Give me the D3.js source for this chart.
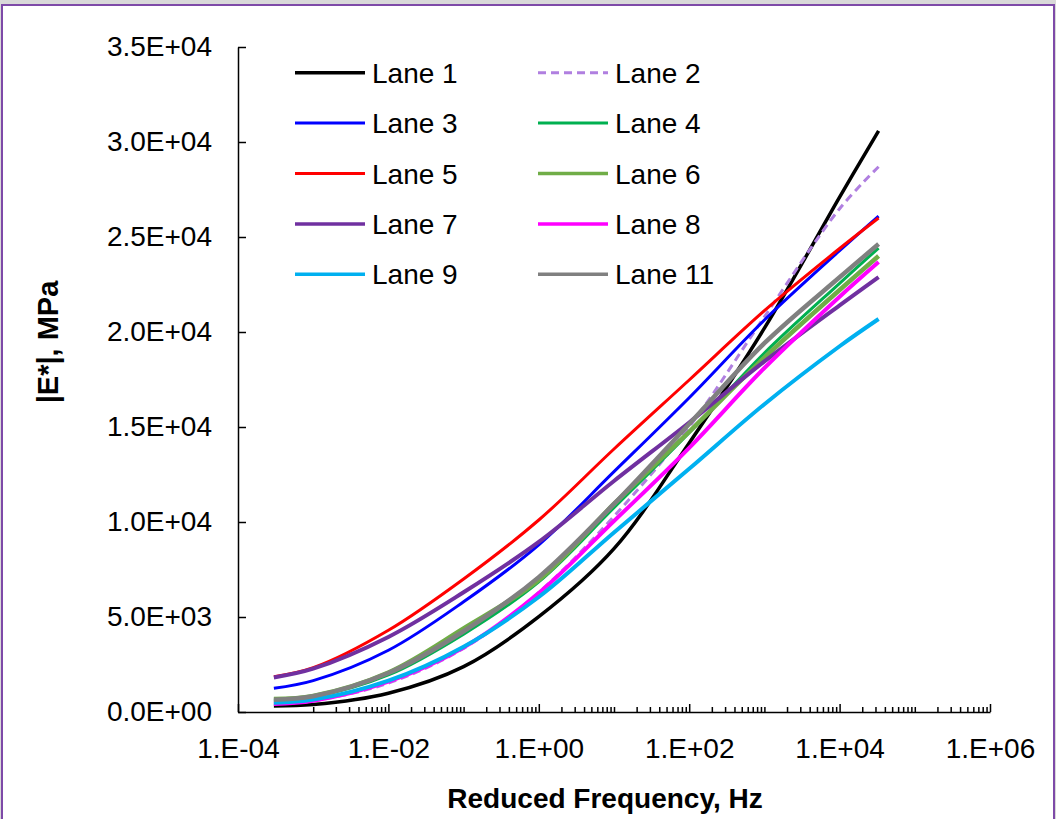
<!DOCTYPE html>
<html>
<head>
<meta charset="utf-8">
<script src="https://cdnjs.cloudflare.com/ajax/libs/d3/7.8.5/d3.min.js"></script>
<style>
  body { margin: 0; background: #fff; }
  svg { display: block; font-family: 'Liberation Sans', Arial, sans-serif; }
</style>
</head>
<body>
<script>
// Reduced frequency (Hz) where each master curve was read
const freqs = [3e-4, 1e-3, 1e-2, 1e-1, 1, 10, 100, 1000, 1e4, 3.3e4]

// |E*| values (MPa) per lane
const lane1 = [316, 390, 990, 2390, 5020, 8600, 14160, 20200, 27100, 30580]
const lane2 = [440, 590, 1520, 3350, 6300, 10300, 15000, 20800, 26490, 28700]
const lane3 = [1247, 1650, 3250, 5800, 8800, 12650, 16540, 20630, 24280, 26100]
const lane4 = [620, 800, 1950, 4100, 6850, 10750, 14700, 18894, 22563, 24420]
const lane5 = [1858, 2330, 4300, 7000, 10105, 13842, 17474, 21120, 24394, 26000]
const lane6 = [690, 850, 2080, 4400, 6950, 10950, 14750, 18650, 22210, 24000]
const lane7 = [1820, 2280, 3950, 6300, 8950, 12158, 15237, 18450, 21405, 22894]
const lane8 = [421, 595, 1600, 3400, 6263, 10052, 13905, 18105, 21858, 23684]
const lane9 = [490, 650, 1650, 3437, 6052, 9450, 12800, 16200, 19250, 20684]
const lane11 = [650, 830, 2050, 4250, 7100, 10950, 15158, 19410, 22878, 24630]

const laneNames = ['Lane 1', 'Lane 2', 'Lane 3', 'Lane 4', 'Lane 5', 'Lane 6', 'Lane 7', 'Lane 8', 'Lane 9', 'Lane 11']
const laneValues = [lane1, lane2, lane3, lane4, lane5, lane6, lane7, lane8, lane9, lane11]
const laneColors = ['#000000', '#b07fe0', '#0000ff', '#00b050', '#ff0000', '#70ad47', '#7030a0', '#ff00ff', '#00b0f0', '#808080']
const laneWidths = [3.5, 3, 3, 3, 3, 4.5, 4, 4, 4, 4.5]

const yTicks = [0, 5000, 10000, 15000, 20000, 25000, 30000, 35000]
const xLabelTicks = [1e-4, 1e-2, 1, 1e2, 1e4, 1e6]

const W = 1056
const H = 819

const svg = d3.select('body').append('svg').attr('width', W).attr('height', H)

// frame: grey strip on top and the purple border
svg.append('rect').attr('x', 0).attr('y', 0).attr('width', W).attr('height', H).attr('fill', '#d9d9d9')
svg.append('rect')
	.attr('x', 2).attr('y', 5).attr('width', W - 4).attr('height', H + 20)
	.attr('fill', '#fff').attr('stroke', '#7e4aa8').attr('stroke-width', 2)

const x = d3.scaleLog().domain([1e-4, 1e6]).range([238, 990])
const y = d3.scaleLinear().domain([0, 35000]).range([712, 47])

function fmtY(v) {
	if (v === 0) return '0.0E+00'
	const e = Math.floor(Math.log10(v))
	const m = v / Math.pow(10, e)
	return m.toFixed(1) + 'E+' + String(e).padStart(2, '0')
}
function fmtX(v) {
	const e = Math.round(Math.log10(v))
	return '1.E' + (e < 0 ? '-' : '+') + String(Math.abs(e)).padStart(2, '0')
}
const isLabelTick = d => xLabelTicks.some(t => Math.abs(t - d) / t < 1e-6)

// minor ticks for every decade except the first one
const xTicks = [1e-4]
for (let n = -3; n <= 5; n++) {
	for (let k = 1; k <= 9; k++) xTicks.push(k * Math.pow(10, n))
}
xTicks.push(1e6)

// axes
svg.append('g')
	.attr('transform', 'translate(238,0)')
	.call(d3.axisLeft(y).tickValues(yTicks).tickSize(-8).tickSizeOuter(0).tickPadding(26).tickFormat(fmtY))
const gx = svg.append('g')
	.attr('transform', 'translate(0,712)')
	.call(d3.axisBottom(x).tickValues(xTicks).tickSize(-5).tickSizeOuter(0).tickPadding(26)
		.tickFormat(d => isLabelTick(d) ? fmtX(d) : ''))

gx.selectAll('.tick line').attr('y2', d => isLabelTick(d) ? -8 : -5)

svg.selectAll('.domain').attr('stroke', '#000').attr('stroke-width', 1.5)
svg.selectAll('.tick line').attr('stroke', '#000').attr('stroke-width', 1.5)
svg.selectAll('.tick text').attr('font-size', 28).attr('fill', '#000')
	.attr('font-family', "'Liberation Sans', Arial, sans-serif")

// axis titles
svg.append('text')
	.attr('x', 605).attr('y', 808)
	.attr('text-anchor', 'middle')
	.attr('font-size', 28).attr('font-weight', 'bold')
	.text('Reduced Frequency, Hz')
svg.append('text')
	.attr('transform', 'translate(58,342) rotate(-90)')
	.attr('text-anchor', 'middle')
	.attr('font-size', 29).attr('font-weight', 'bold')
	.text('|E*|, MPa')

// curves
const line = d3.line()
	.x(d => x(d[0]))
	.y(d => y(d[1]))
	.curve(d3.curveCatmullRom.alpha(0.5))

laneValues.forEach((vals, i) => {
	svg.append('path')
		.datum(freqs.map((f, j) => [f, vals[j]]))
		.attr('fill', 'none')
		.attr('stroke', laneColors[i])
		.attr('stroke-width', laneWidths[i])
		.attr('stroke-dasharray', i === 1 ? '8,5' : null)
		.attr('d', line)
})

// legend, two columns
const legend = svg.append('g')
laneNames.forEach((name, i) => {
	const col = i % 2
	const row = Math.floor(i / 2)
	const lx = col === 0 ? 295 : 538
	const ly = 72.7 + row * 50.4
	legend.append('line')
		.attr('x1', lx).attr('x2', lx + 70)
		.attr('y1', ly).attr('y2', ly)
		.attr('stroke', laneColors[i])
		.attr('stroke-width', laneWidths[i] <= 3 ? 3 : 3.5)
		.attr('stroke-dasharray', i === 1 ? '8,5' : null)
	legend.append('text')
		.attr('x', lx + 77).attr('y', ly + 10)
		.attr('font-size', 28)
		.text(name)
})
</script>
</body>
</html>
